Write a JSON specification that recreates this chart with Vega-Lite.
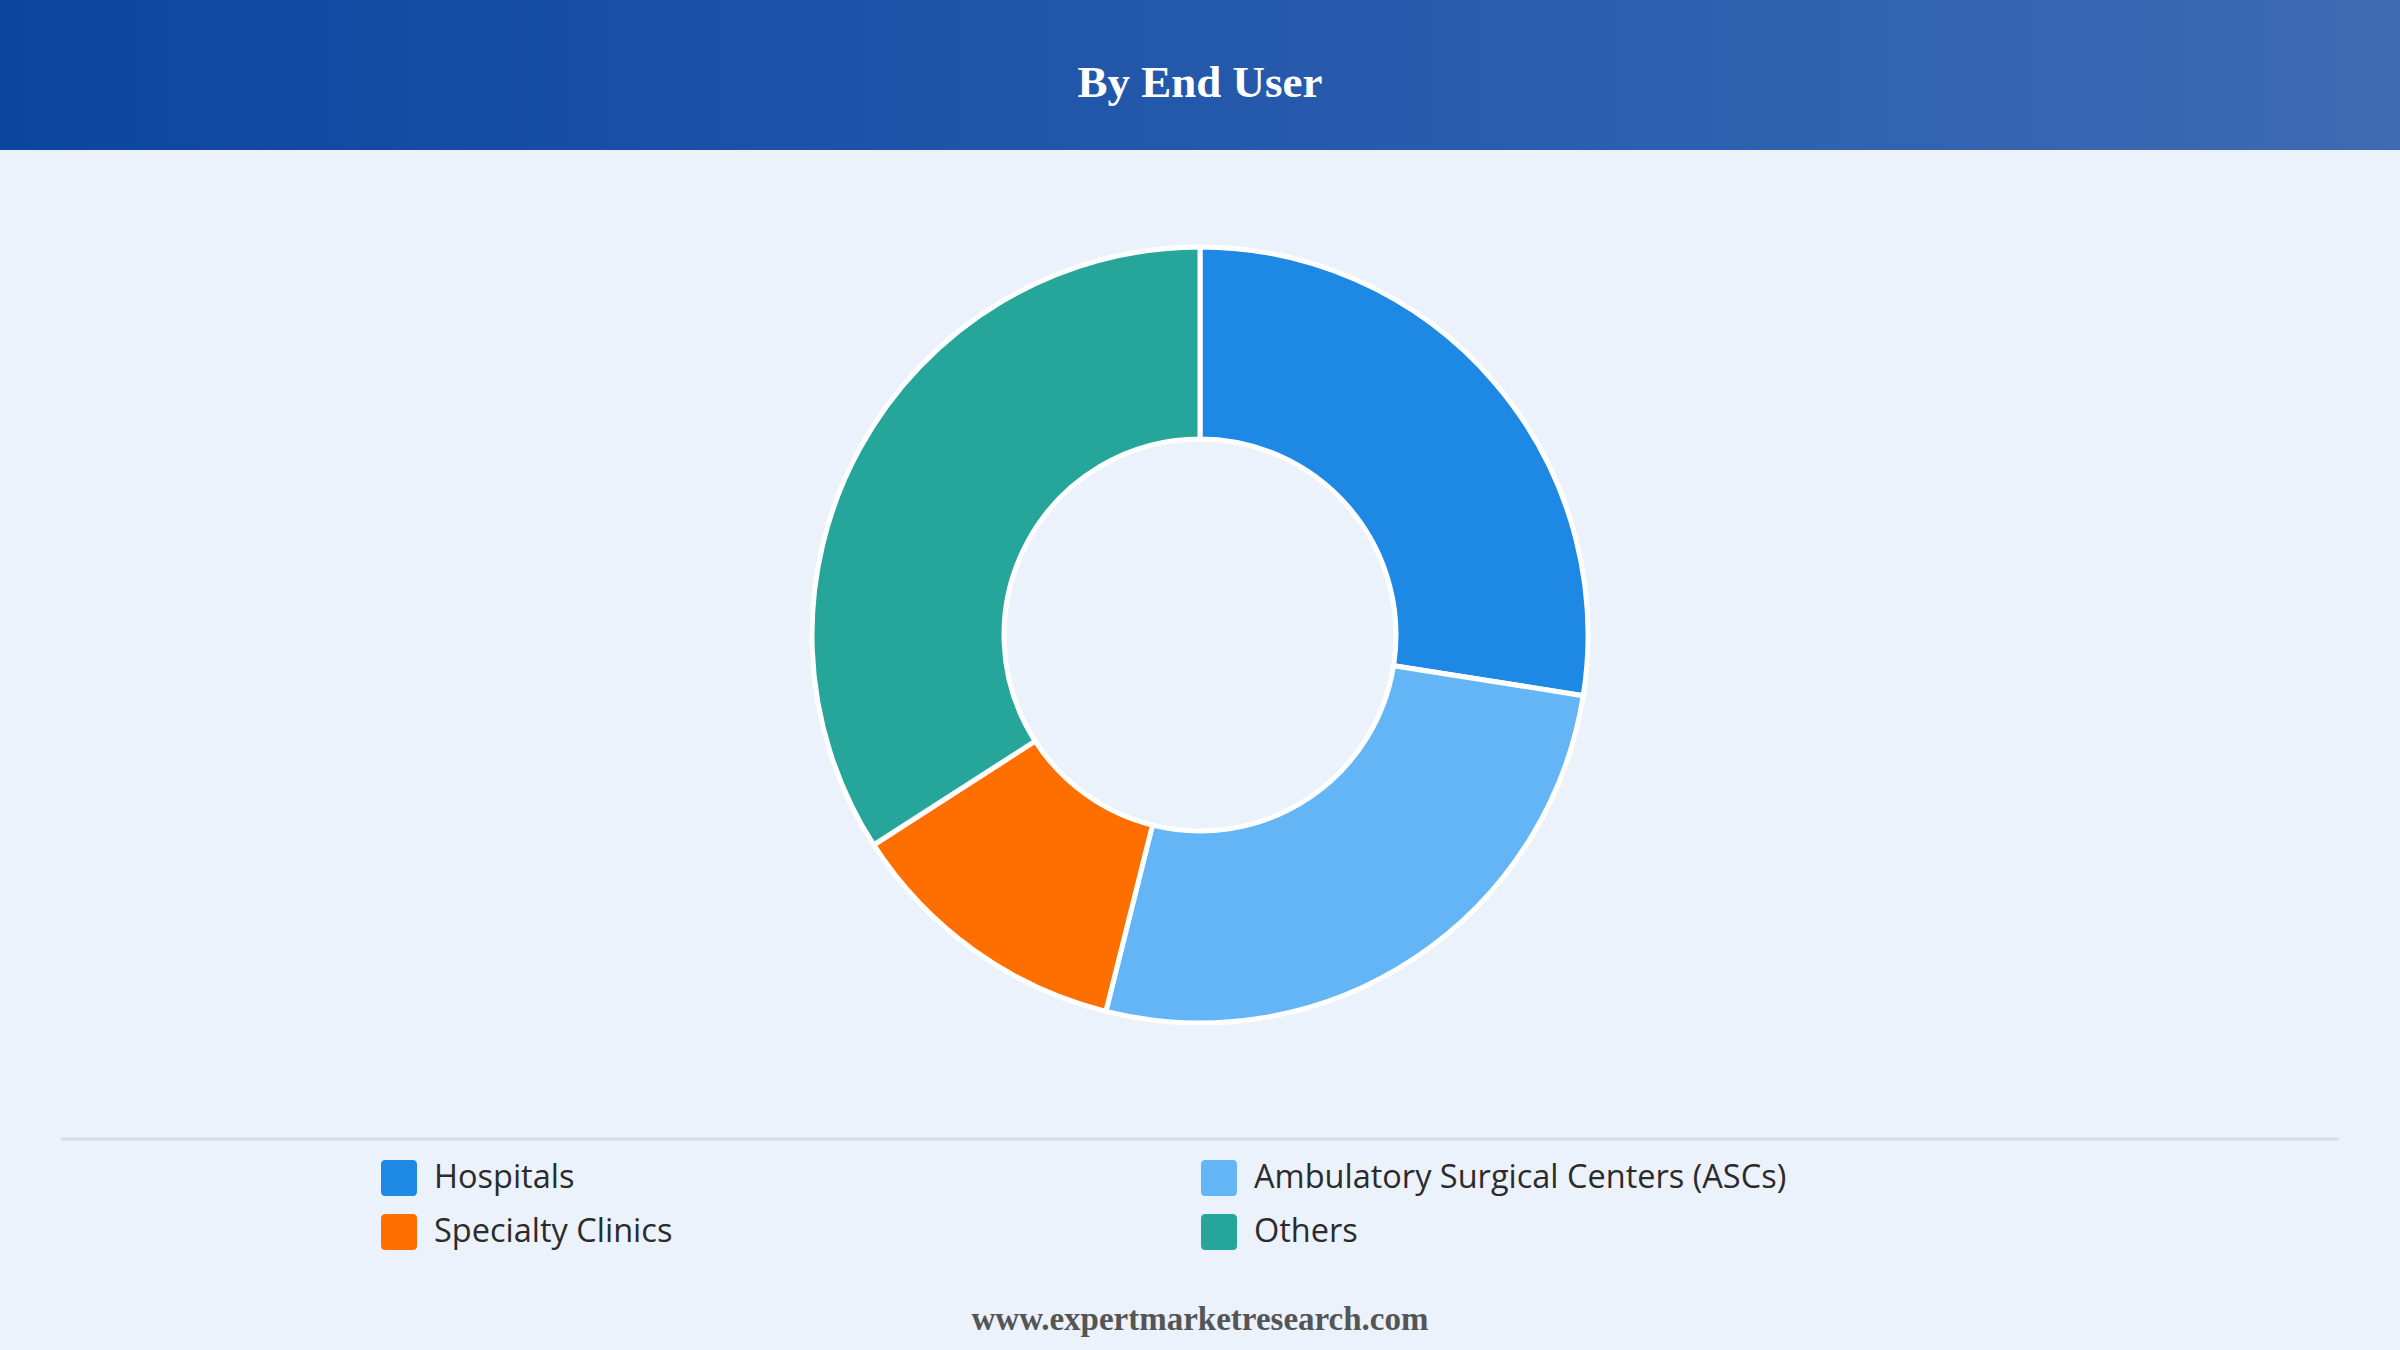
{
  "$schema": "https://vega.github.io/schema/vega-lite/v6.json",
  "width": 2400,
  "height": 1270,
  "autosize": "none",
  "padding": {"top": 0, "left": 0, "right": 0, "bottom": 80},
  "background": "#EBF2FB",
  "title": {
    "text": "By End User",
    "font": "Liberation Serif",
    "fontSize": 45,
    "fontWeight": "bold",
    "color": "#FFFFFF",
    "anchor": "middle",
    "frame": "group",
    "baseline": "middle",
    "offset": -128
  },
  "config": {
    "view": {"stroke": null},
    "legend": {
      "orient": "none",
      "legendX": 381,
      "legendY": 1160,
      "direction": "horizontal",
      "columns": 2,
      "columnPadding": 528,
      "rowPadding": 18,
      "padding": 0,
      "symbolType": "M-0.75,-1 H0.75 Q1,-1 1,-0.75 V0.75 Q1,1 0.75,1 H-0.75 Q-1,1 -1,0.75 V-0.75 Q-1,-1 -0.75,-1 Z",
      "symbolSize": 1296,
      "symbolStrokeWidth": 0,
      "symbolOpacity": 1,
      "labelFont": "Open Sans",
      "labelFontSize": 32.5,
      "labelColor": "#2B2B2B",
      "labelOffset": 17,
      "labelLimit": 0
    }
  },
  "layer": [
    {
      "data": {"values": [{"band": "header"}]},
      "mark": {
        "type": "rect",
        "fill": {
          "gradient": "linear",
          "x1": 0, "y1": 0, "x2": 1, "y2": 0,
          "stops": [
            {"offset": 0, "color": "#0C45A0"},
            {"offset": 0.5, "color": "#2458AB"},
            {"offset": 1, "color": "#3D6BB4"}
          ]
        }
      },
      "encoding": {
        "x": {"value": 0},
        "x2": {"value": 2400},
        "y": {"value": 0},
        "y2": {"value": 150}
      }
    },
    {
      "data": {"values": [{"line": "separator"}]},
      "mark": {"type": "rule", "color": "#D8DDE3", "strokeWidth": 3},
      "encoding": {
        "x": {"value": 61},
        "x2": {"value": 2339},
        "y": {"value": 1139}
      }
    },
    {
      "data": {
        "values": [
          {"segment": "Hospitals", "share": 27.5, "rank": 1},
          {"segment": "Ambulatory Surgical Centers (ASCs)", "share": 26.4, "rank": 2},
          {"segment": "Specialty Clinics", "share": 12.0, "rank": 3},
          {"segment": "Others", "share": 34.1, "rank": 4}
        ]
      },
      "mark": {
        "type": "arc",
        "outerRadius": 388,
        "innerRadius": 196,
        "stroke": "#FFFFFF",
        "strokeWidth": 5
      },
      "encoding": {
        "theta": {"field": "share", "type": "quantitative", "stack": true},
        "order": {"field": "rank", "type": "quantitative", "sort": "ascending"},
        "color": {
          "field": "segment",
          "type": "nominal",
          "sort": ["Hospitals", "Ambulatory Surgical Centers (ASCs)", "Specialty Clinics", "Others"],
          "scale": {
            "domain": ["Hospitals", "Ambulatory Surgical Centers (ASCs)", "Specialty Clinics", "Others"],
            "range": ["#1E88E5", "#64B5F6", "#FF6F00", "#26A69A"]
          },
          "legend": {"title": null}
        }
      }
    },
    {
      "data": {"values": [{"site": "www.expertmarketresearch.com"}]},
      "mark": {
        "type": "text",
        "font": "Liberation Serif",
        "fontSize": 33,
        "fontWeight": "bold",
        "color": "#555555",
        "align": "center",
        "baseline": "middle"
      },
      "encoding": {
        "text": {"field": "site"},
        "x": {"value": 1200},
        "y": {"value": 1320}
      }
    }
  ]
}
